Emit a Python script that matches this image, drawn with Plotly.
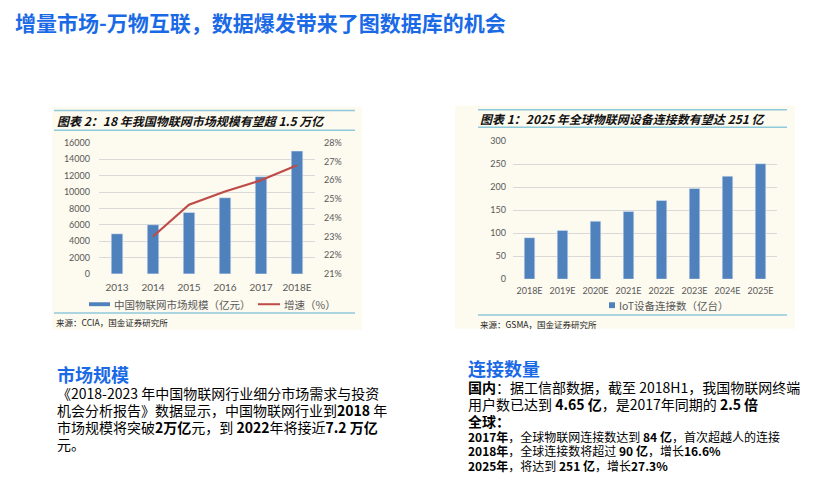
import plotly.graph_objects as go

W, H = 818, 495

# ---------------- data ----------------
market_years = ["2013", "2014", "2015", "2016", "2017", "2018E"]
market_size = [4896, 6000, 7500, 9300, 11860, 15000]          # 亿元
growth_years = ["2014", "2015", "2016", "2017", "2018E"]
growth_pct = [23.0, 24.7, 25.4, 26.0, 26.8]                   # %

iot_years = ["2018E", "2019E", "2020E", "2021E", "2022E", "2023E", "2024E", "2025E"]
iot_conn = [90, 106, 126, 147, 171, 197, 224, 251]            # 亿台

size_ticks = [0, 2000, 4000, 6000, 8000, 10000, 12000, 14000, 16000]
pct_ticks = [21, 22, 23, 24, 25, 26, 27, 28]
pct_labels = [f"{v}%" for v in pct_ticks]
conn_ticks = [0, 50, 100, 150, 200, 250, 300]

# ---------------- helpers ----------------
def px(x):
    return x / W

def py(y):
    return 1 - y / H

BLUE_BAR = "#4f81bd"
RED_LINE = "#be4b48"
GRID = "#d9d9d9"
TICK = "#595959"
CREAM = "#fdfaef"
TEAL = "#8fc9dc"
TITLE_BLUE = "#1a6ae6"
CJK = "Noto Sans CJK SC"
NUM = "Lato"

fig = go.Figure()

fig.add_trace(go.Bar(x=market_years, y=market_size, marker_color=BLUE_BAR,
                     xaxis="x", yaxis="y", showlegend=False))
fig.add_trace(go.Scatter(x=growth_years, y=growth_pct, mode="lines",
                         line=dict(color=RED_LINE, width=2.2),
                         xaxis="x", yaxis="y2", showlegend=False))
fig.add_trace(go.Bar(x=iot_years, y=iot_conn, marker_color=BLUE_BAR,
                     xaxis="x2", yaxis="y3", showlegend=False))

tickfont = dict(family=NUM, size=9, color=TICK)

fig.update_layout(
    width=W, height=H,
    margin=dict(l=0, r=0, t=0, b=0),
    paper_bgcolor="white",
    plot_bgcolor="rgba(0,0,0,0)",
    bargap=0.68,
    xaxis=dict(domain=[px(99), px(315)], anchor="y", type="category",
               showgrid=False, showline=False, ticks="", ticklabelstandoff=6,
               tickfont=dict(family=NUM, size=10, color=TICK)),
    yaxis=dict(domain=[py(274), py(140)], anchor="x", range=[0, 16000],
               tickvals=size_ticks, tickformat="d", showgrid=True, gridcolor=GRID, gridwidth=1,
               zeroline=False, showline=False, ticks="", tickfont=tickfont, ticklabelstandoff=8),
    yaxis2=dict(domain=[py(274), py(140)], anchor="x", overlaying="y", side="right",
                range=[21, 28], tickvals=pct_ticks, ticktext=pct_labels, showgrid=False,
                zeroline=False, showline=False, ticks="", tickfont=tickfont, ticklabelstandoff=8),
    xaxis2=dict(domain=[px(513), px(777)], anchor="y3", type="category",
                showgrid=False, showline=False, ticks="", ticklabelstandoff=5,
                tickfont=dict(family=NUM, size=9, color=TICK)),
    yaxis3=dict(domain=[py(279.3), py(138.3)], anchor="x2", range=[0, 300],
                tickvals=conn_ticks, tickformat="d", showgrid=True, gridcolor=GRID, gridwidth=1,
                zeroline=False, showline=False, ticks="", tickfont=tickfont, ticklabelstandoff=6),
)

shapes = []
# cream panels
shapes.append(dict(type="rect", xref="paper", yref="paper", x0=px(52), x1=px(362), y0=py(331), y1=py(103),
                   fillcolor=CREAM, line_width=0, layer="below"))
shapes.append(dict(type="rect", xref="paper", yref="paper", x0=px(455), x1=px(795), y0=py(330), y1=py(102),
                   fillcolor=CREAM, line_width=0, layer="below"))
# teal rules
for (x0, x1, y) in [(54, 355, 107), (54, 355, 127), (54, 355, 314),
                    (478, 787, 106), (478, 787, 124), (478, 787, 316)]:
    shapes.append(dict(type="line", xref="paper", yref="paper", x0=px(x0), x1=px(x1), y0=py(y), y1=py(y),
                       line=dict(color=TEAL, width=1.5), layer="below"))
# legend swatches
shapes.append(dict(type="rect", xref="paper", yref="paper", x0=px(89), x1=px(110), y0=py(307), y1=py(303),
                   fillcolor=BLUE_BAR, line_width=0))
shapes.append(dict(type="line", xref="paper", yref="paper", x0=px(258), x1=px(280), y0=py(305), y1=py(305),
                   line=dict(color=RED_LINE, width=2)))
shapes.append(dict(type="rect", xref="paper", yref="paper", x0=px(609), x1=px(615), y0=py(309), y1=py(303),
                   fillcolor=BLUE_BAR, line_width=0))
fig.update_layout(shapes=shapes)

ann = []
def text(x, y, s, size, color="#000000", family=CJK, anchor="left"):
    ann.append(dict(x=px(x), y=py(y), xref="paper", yref="paper", text=s, showarrow=False,
                    xanchor=anchor, yanchor="middle", align="left",
                    font=dict(family=family, size=size, color=color)))

def sp(s, size, color=None):
    st = f"font-size:{size}px"
    if color:
        st += f";color:{color}"
    return f'<span style="{st}">{s}</span>'

# main title
text(13, 16, "<b>增量市场-万物互联，数据爆发带来了图数据库的机会</b>", 21, TITLE_BLUE)

# chart titles
text(55, 117, "<b><i>图表 2：18 年我国物联网市场规模有望超 1.5 万亿</i></b>", 12, "#111111")
text(478, 115, "<b><i>图表 1：2025 年全球物联网设备连接数有望达 251 亿</i></b>", 12, "#111111")

# legends
text(112, 305, "中国物联网市场规模（亿元）", 10.5, TICK)
text(282, 305, "增速（%）", 10.5, TICK)
text(617, 306, "IoT设备连接数（亿台）", 10.5, TICK)

# sources
text(54, 323, "来源：CCIA，国金证券研究所", 8.5, "#222222")
text(478, 325, "来源：GSMA，国金证券研究所", 8.5, "#222222")

# left text block (one multi-line text)
left_lines = [
    sp("<b>市场规模</b>", 18, TITLE_BLUE),
    sp("《2018-2023 年中国物联网行业细分市场需求与投资", 14),
    sp("机会分析报告》数据显示，中国物联网行业到<b>2018</b> 年", 14),
    sp("市场规模将突破<b>2万亿</b>元，到 <b>2022</b>年将接近<b>7.2 万亿</b>", 14),
    sp("元。", 14),
]
text(55, 377 + 2 * 16.9, "<br>".join(left_lines), 13)

# right text block
right_lines = [
    sp("<b>连接数量</b>", 18, TITLE_BLUE),
    sp("<b>国内</b>：据工信部数据，截至 2018H1，我国物联网终端", 14),
    sp("用户数已达到 <b>4.65 亿</b>，是2017年同期的 <b>2.5 倍</b>", 14),
    sp("<b>全球：</b>", 14),
]
text(466, 370 + 1.5 * 16.9, "<br>".join(right_lines), 13)

small_lines = [
    sp("<b>2017年</b>，全球物联网连接数达到 <b>84 亿</b>，首次超越人的连接", 12),
    sp("<b>2018年</b>，全球连接数将超过 <b>90 亿</b>，增长<b>16.6%</b>", 12),
    sp("<b>2025年</b>，将达到 <b>251 亿</b>，增长<b>27.3%</b>", 12),
]
text(466, 441 + 14.3, "<br>".join(small_lines), 11)

fig.update_layout(annotations=ann)

fig.write_html("out.html")
